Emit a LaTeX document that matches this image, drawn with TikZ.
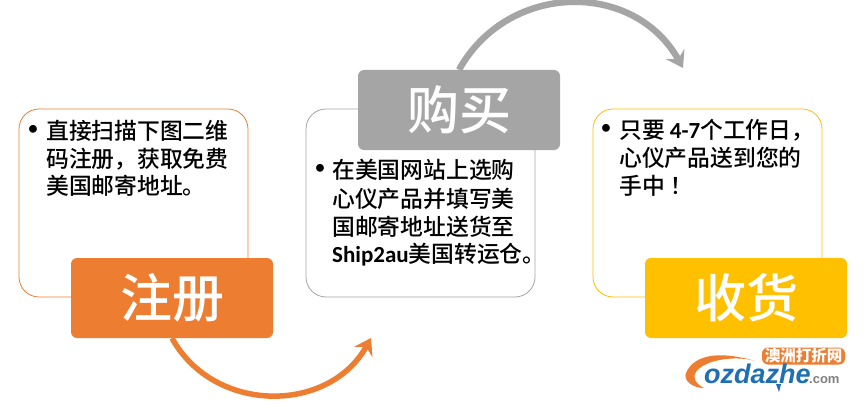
\documentclass[tikz,border=0pt]{standalone}
\usepackage{fontspec}
\setmainfont{Carlito}
\newfontfamily\cjk{Noto Sans CJK SC}
\newfontfamily\cjkm{Noto Sans CJK SC Medium}
\newfontfamily\cjkt{Noto Sans CJK TC Medium}
\newfontfamily\latb{Carlito}[BoldFont={Carlito Bold}]
\newfontfamily\logof{Liberation Sans}
\usetikzlibrary{arrows.meta,calc}
\definecolor{oran}{HTML}{ED7D31}
\definecolor{grayc}{HTML}{A5A5A5}
\definecolor{gold}{HTML}{FFC000}
\definecolor{logob}{HTML}{1F6FB5}
\newcommand{\latn}[1]{{\latb\bfseries\fontsize{23}{23}\selectfont #1}}
\tikzset{
 x=1pt,y=-1pt,
 panel/.style={draw=#1,fill=white,line width=0.8pt,rounded corners=20pt,minimum width=229pt,minimum height=188pt,inner sep=0pt},
 head/.style={fill=#1,rounded corners=6pt,minimum width=202pt,minimum height=80pt,inner sep=0pt,text=white,font=\cjkm\fontsize{52}{52}\selectfont},
 body/.style={anchor=west,inner sep=0pt,text=black,font=\cjkm\fontsize{22.8}{22.8}\selectfont},
 dot/.style={anchor=center,inner sep=0pt,text=black,font=\fontsize{22}{22}\selectfont},
 loop/.style={draw=#1,-{Stealth[length=16pt,width=21pt,inset=6pt]}},
}
\begin{document}
\begin{tikzpicture}
\useasboundingbox[fill=white] (0,0) rectangle (868,404);
\node[panel=oran] (p1) at (133.5,203) {};
\node[panel=grayc] (p2) at (420.5,203) {};
\node[panel=gold] (p3) at (707.5,203) {};
\coordinate (e1) at (371,338);
\coordinate (e2) at (683,68);
\node[head=oran] (t1) at (172,298) {注册};
\node[head=grayc] (t2) at (459,110) {购买};
\node[head=gold] (t3) at (746,298) {收货};
\draw[loop=oran,line width=5.5pt] (t1.south) .. controls +(42,76) and ($(e1)+(-42,76)$) .. (e1);
\draw[loop=grayc,line width=6.5pt] (t2.north) .. controls +(49,-88) and ($(e2)+(-49,-88)$) .. (e2);
\node[dot] (b1) at (33,130) {•};
\node[body] (a1) at (46,131) {直接扫描下图二维};
\node[body] (a2) at (46,159) {码注册，获取免费};
\node[body] (a3) at (46,186) {美国邮寄地址。};
\node[dot] (b2) at (320,169) {•};
\node[body] (c1) at (332,170) {在美国网站上选购};
\node[body] (c2) at (332,199) {心仪产品并填写美};
\node[body] (c3) at (332,227) {国邮寄地址送货至};
\node[body] (c4) at (332,255) {\latn{Ship2au}美国转运仓。};
\node[dot] (b3) at (606,129) {•};
\node[body] (d1) at (619,130) {只要 \latn{4-7}个工作日，};
\node[body] (d2) at (619,158) {心仪产品送到您的};
\node[body] (d3) at (619,186) {手中{\cjkt ！}};
% logo
\fill[oran] (755,361) .. controls (725,352) and (695,352) .. (686,373) .. controls (683,380) and (692,388) .. (704,388) .. controls (696,384) and (692,378) .. (696,372) .. controls (704,360) and (735,355) .. (755,361) -- cycle;
\fill[logob] (776,384) -- (781,384) -- (779,392) -- cycle;
\node[fill=oran,rounded corners=6pt,minimum width=83pt,minimum height=17pt,inner sep=0pt,text=white,font=\cjk\bfseries\fontsize{15.5}{15.5}\selectfont] (bdg) at (803.5,356) {澳洲打折网};
\node[anchor=base west,inner sep=0pt,text=logob,font=\logof\bfseries\itshape\fontsize{27}{27}\selectfont] (lg) at (704,383) {ozdazhe};
\node[anchor=base west,inner sep=0pt,text=gray,font=\logof\bfseries\fontsize{13}{13}\selectfont] (lc) at (809,383) {.com};
\end{tikzpicture}
\end{document}
